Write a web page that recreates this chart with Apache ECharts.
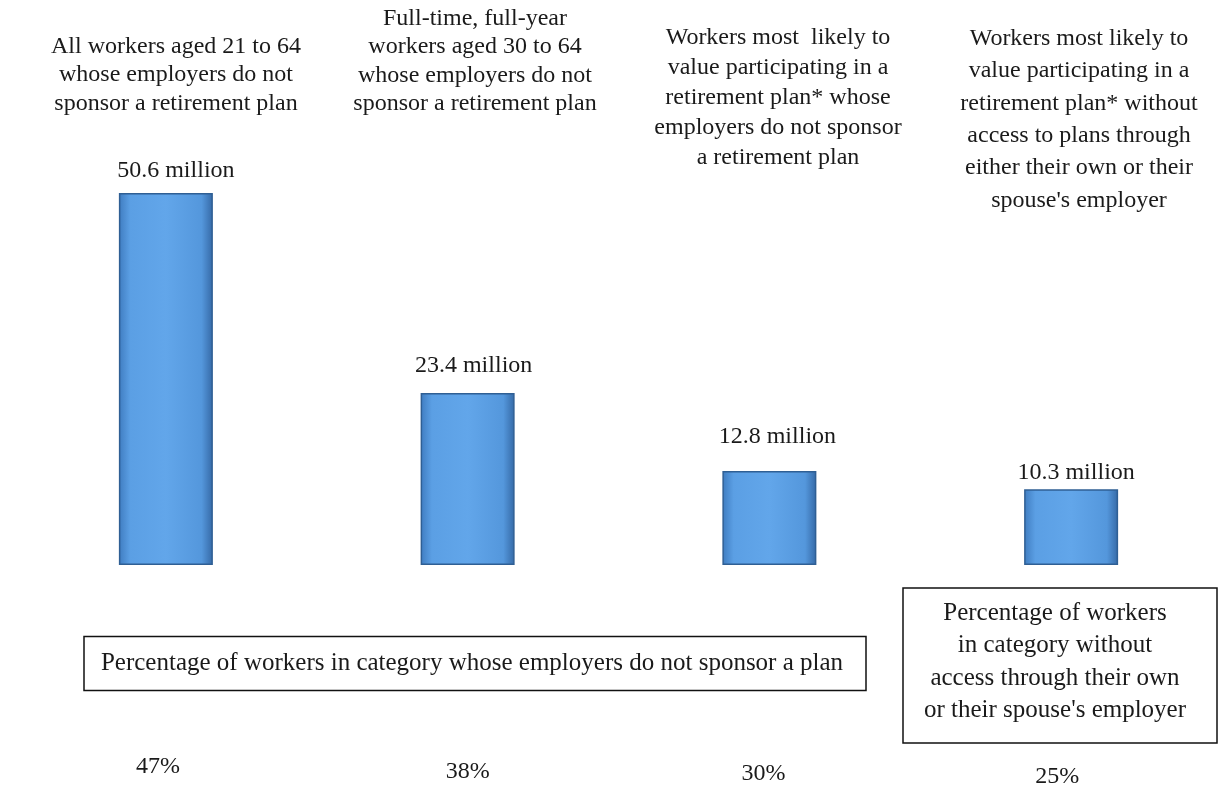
<!DOCTYPE html>
<html>
<head>
<meta charset="utf-8">
<script src="https://cdn.jsdelivr.net/npm/echarts@6/dist/echarts.min.js"></script>
<style>
  html, body { margin: 0; padding: 0; background: #ffffff; }
  #chart { width: 1225px; height: 786px; }
</style>
</head>
<body>
<div id="chart"></div>
<script>
// ---- data ----
const categories = [
  "All workers aged 21 to 64\nwhose employers do not\nsponsor a retirement plan",
  "Full-time, full-year\nworkers aged 30 to 64\nwhose employers do not\nsponsor a retirement plan",
  "Workers most  likely to\nvalue participating in a\nretirement plan* whose\nemployers do not sponsor\na retirement plan",
  "Workers most likely to\nvalue participating in a\nretirement plan* without\naccess to plans through\neither their own or their\nspouse's employer"
];
const workersMillions = [50.6, 23.4, 12.8, 10.3];
const percentLabels = ["47%", "38%", "30%", "25%"];
const boxTextPlans = "Percentage of workers in category whose employers do not sponsor a plan";
const boxTextAccess = "Percentage of workers\nin category without\naccess through their own\nor their spouse's employer";

// ---- layout (not data) ----
const FONT = "'Liberation Serif', 'DejaVu Serif', serif";
const FS = 24;
const headerPos = [
  { x: 176, y: 75, lh: 28.5 },
  { x: 475, y: 61, lh: 28.5 },
  { x: 778, y: 97.5, lh: 30 },
  { x: 1079, y: 119.5, lh: 32.4 }
];
const labelOffsets = [[10, -5], [6, -10], [8, -17], [5, 0]];
// padding [top, right, bottom, left] nudges each percentage label
const percentPadding = [[0, 16, 0, 0], [5, 0, 0, 0], [7, 12, 0, 0], [10, 28, 0, 0]];

const chart = echarts.init(document.getElementById('chart'), null, { renderer: 'canvas' });

const barGradient = new echarts.graphic.LinearGradient(0, 0, 1, 0, [
  { offset: 0, color: '#3f7cc0' },
  { offset: 0.12, color: '#5b9fe4' },
  { offset: 0.5, color: '#62a6ea' },
  { offset: 0.88, color: '#5497dc' },
  { offset: 1, color: '#3569a6' }
]);

const graphics = categories.map((c, i) => ({
  type: 'text',
  x: headerPos[i].x,
  y: headerPos[i].y,
  style: {
    text: c,
    font: FS + 'px ' + FONT,
    fill: '#1a1a1a',
    align: 'center',
    verticalAlign: 'middle',
    lineHeight: headerPos[i].lh
  }
}));

graphics.push({
  type: 'group',
  children: [
    { type: 'rect', shape: { x: 84, y: 636.5, width: 782, height: 54 },
      style: { fill: '#ffffff', stroke: '#111', lineWidth: 1.5 } },
    { type: 'text', x: 472, y: 663.5,
      style: { text: boxTextPlans, font: (FS + 1) + 'px ' + FONT, fill: '#1a1a1a', align: 'center', verticalAlign: 'middle' } }
  ]
});
graphics.push({
  type: 'group',
  children: [
    { type: 'rect', shape: { x: 903, y: 588, width: 314, height: 155 },
      style: { fill: '#ffffff', stroke: '#111', lineWidth: 1.5 } },
    { type: 'text', x: 1055, y: 662,
      style: { text: boxTextAccess, font: (FS + 1) + 'px ' + FONT, fill: '#1a1a1a', align: 'center', verticalAlign: 'middle', lineHeight: 32.5 } }
  ]
});

chart.setOption({
  animation: false,
  backgroundColor: '#ffffff',
  grid: { left: 15, right: 3, top: 124, bottom: 221, containLabel: false, outerBoundsMode: 'none' },
  xAxis: {
    type: 'category',
    position: 'bottom',
    data: percentLabels.map((p, i) => ({ value: p, textStyle: { padding: percentPadding[i] } })),
    axisLine: { show: false },
    axisTick: { show: false },
    axisLabel: {
      margin: 190,
      verticalAlign: 'top',
      fontFamily: FONT,
      fontSize: FS,
      color: '#1a1a1a'
    }
  },
  yAxis: {
    type: 'value',
    min: 0,
    max: 60,
    show: false,
    splitLine: { show: false }
  },
  series: [{
    type: 'bar',
    barWidth: 94,
    data: workersMillions.map((v, i) => ({
      value: v,
      label: { offset: labelOffsets[i] }
    })),
    itemStyle: {
      color: barGradient,
      borderColor: '#2f5f94',
      borderWidth: 1.5
    },
    label: {
      show: true,
      position: 'top',
      distance: 5,
      formatter: p => p.value + ' million',
      fontFamily: FONT,
      fontSize: FS,
      color: '#1a1a1a'
    }
  }],
  graphic: graphics
});
</script>
</body>
</html>
